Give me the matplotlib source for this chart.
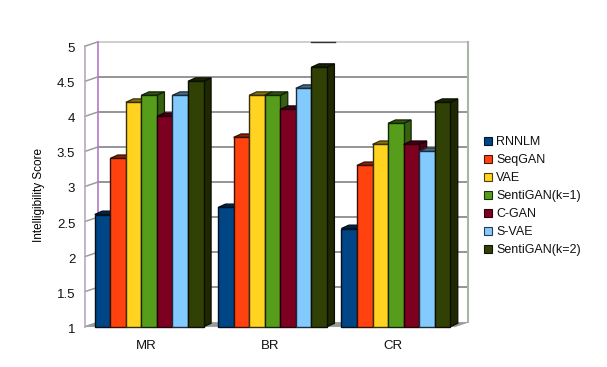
import matplotlib
matplotlib.use('Agg')
import matplotlib.pyplot as plt
from matplotlib.patches import Patch, Polygon
from matplotlib.colors import to_rgb
from matplotlib.transforms import Affine2D

plt.rcParams['font.family'] = ['Liberation Sans', 'DejaVu Sans']

# Data
categories = ['MR', 'BR', 'CR']
models = ['RNNLM', 'SeqGAN', 'VAE', 'SentiGAN(k=1)', 'C-GAN', 'S-VAE', 'SentiGAN(k=2)']
colors = ['#004586', '#ff420e', '#ffd320', '#579d1c', '#7e0021', '#83caff', '#314004']
rnnlm = [2.6, 2.7, 2.4]
seqgan = [3.4, 3.7, 3.3]
vae = [4.2, 4.3, 3.6]
sentigan1 = [4.3, 4.3, 3.9]
cgan = [4.0, 4.1, 3.6]
svae = [4.3, 4.4, 3.5]
sentigan2 = [4.5, 4.7, 4.2]
series = [rnnlm, seqgan, vae, sentigan1, cgan, svae, sentigan2]
yticks = [1, 1.5, 2, 2.5, 3, 3.5, 4, 4.5, 5]
ytick_labels = ['1', '1.5', '2', '2.5', '3', '3.5', '4', '4.5', '5']

W, H = 607, 367
fig = plt.figure(figsize=(W / 100, H / 100), dpi=100)
# axes is the front plane of the 3d box
left, right, top, bottom = 85, 455, 46.2, 326.7
ax = fig.add_axes([left / W, 1 - bottom / H, (right - left) / W, (bottom - top) / H])
ax.set_xlim(0, 3)
ax.set_ylim(1, 5)

px_x = 3 / (right - left)
px_y = 4 / (bottom - top)
# depth of the walls and of the bars, in pixels turned to data units
wall_x, wall_y = 13 * px_x, 4.4 * px_y
bar_x, bar_y = 7.5 * px_x, 3.4 * px_y
bar_w = 15.55 * px_x
shift = 2.5 * px_x

for s in ax.spines.values():
    s.set_visible(False)
ax.patch.set_visible(False)

# floor
ax.add_patch(Polygon([(0, 1), (3, 1), (3 + wall_x, 1 + wall_y), (wall_x, 1 + wall_y)],
                     fc='#9a9a9a', ec='#9a9a9a', lw=0.5, clip_on=False, zorder=1))

# walls and grid
for v in yticks[1:-1]:
    ax.plot([wall_x, 3 + wall_x], [v + wall_y, v + wall_y], color='#8c8c8c', lw=1.3,
            clip_on=False, zorder=1)
for v in yticks:
    ax.plot([0, wall_x], [v, v + wall_y], color='#9c9c9c', lw=1.1, clip_on=False, zorder=1)
ax.plot([wall_x, 3 + wall_x], [5 + wall_y, 5 + wall_y], color='#c4c8c0', lw=1.2, clip_on=False, zorder=1)
ax.plot([wall_x, wall_x], [1 + wall_y, 5 + wall_y], color='#b27cc4', lw=1.2, clip_on=False, zorder=1)
ax.plot([0, 0], [1, 5], color='#b8a8bc', lw=1.2, clip_on=False, zorder=1)
ax.plot([3 + wall_x, 3 + wall_x], [1 + wall_y, 5 + wall_y], color='#aab4a8', lw=1.5, clip_on=False, zorder=1)
ax.plot([1.83, 2.03], [5 + wall_y, 5 + wall_y], color='#333333', lw=1.0, clip_on=False, zorder=1)


def shade(color, f):
    return tuple(c * f for c in to_rgb(color))


# bars, left to right so each one hides the side of the previous one
z = 3
for i in range(len(categories)):
    x0 = i + 0.5 + shift - 3.5 * bar_w
    for j, vals in enumerate(series):
        xl = x0 + j * bar_w
        xr = xl + bar_w
        v = vals[i]
        edge = shade(colors[j], 0.22)
        ax.add_patch(Polygon([(xr, 1), (xr + bar_x, 1 + bar_y), (xr + bar_x, v + bar_y), (xr, v)],
                             fc=shade(colors[j], 0.62), ec=edge, lw=0.9, clip_on=False, zorder=z))
        ax.add_patch(Polygon([(xl, v), (xr, v), (xr + bar_x, v + bar_y), (xl + bar_x, v + bar_y)],
                             fc=shade(colors[j], 0.55), ec=edge, lw=0.9, clip_on=False, zorder=z))
        ax.bar(xl, v - 1, width=bar_w, bottom=1, align='edge', color=colors[j],
               edgecolor=edge, linewidth=1.0, clip_on=False, zorder=z + 0.5)
        z += 1

ax.set_yticks(yticks)
ax.set_yticklabels(ytick_labels, fontsize=9.5, color='#111111')
ax.set_xticks([0.5, 1.5, 2.5])
ax.set_xticklabels(categories, fontsize=9.5, color='#111111')
ax.tick_params(axis='both', length=0)
ax.tick_params(axis='y', pad=7)
ax.tick_params(axis='x', pad=9.5)
# tick labels sit a little under their grid lines in the original
for lab in ax.get_yticklabels():
    lab.set_transform(lab.get_transform() + Affine2D().translate(0, -1.5))
ax.set_ylabel('Intelligibility Score', fontsize=8.5, labelpad=8.5, y=0.468)

handles = [Patch(facecolor=c, edgecolor=shade(c, 0.3), linewidth=0.8) for c in colors]
fig.legend(handles, models, loc='center left', bbox_to_anchor=(484 / W, 1 - 196 / H),
           frameon=False, fontsize=9, handlelength=0.62, handleheight=0.62, handletextpad=0.35,
           labelspacing=0.48, borderpad=0, borderaxespad=0, labelcolor='#111111')

fig.savefig('out.png', dpi=100)
